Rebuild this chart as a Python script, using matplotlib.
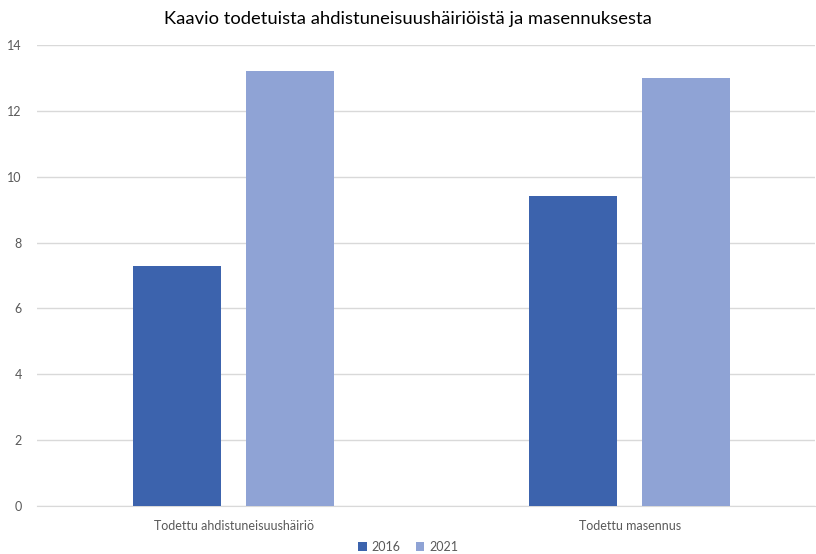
import matplotlib.pyplot as plt
import numpy as np

# data
categories = ["Todettu ahdistuneisuushäiriö", "Todettu masennus"]
years = ["2016", "2021"]
values_2016 = [7.3, 9.4]
values_2021 = [13.2, 13.0]
colors = ["#3c63ad", "#8fa3d5"]

plt.rcParams['font.family'] = ['Lato', 'DejaVu Sans']

fig = plt.figure(figsize=(8.16, 5.54), dpi=100)
ax = fig.add_axes([37 / 816, 1 - 506 / 554, 778 / 816, 461 / 554])

x = np.arange(len(categories))
width = 0.222
offset = 0.143
ax.bar(x - offset, values_2016, width, color=colors[0], label=years[0], zorder=3)
ax.bar(x + offset, values_2021, width, color=colors[1], label=years[1], zorder=3)

ax.set_xlim(-0.497, 1.468)
ax.set_ylim(0, 14)
ax.set_yticks(range(0, 15, 2))
ax.set_xticks(x)
ax.set_xticklabels(categories)

ax.grid(axis='y', color='#d9d9d9', linewidth=1, zorder=0)
for side in ['top', 'right', 'left']:
    ax.spines[side].set_visible(False)
ax.spines['bottom'].set_color('#d9d9d9')
ax.tick_params(axis='both', length=0, colors='#595959', labelsize=9)
ax.tick_params(axis='x', pad=10)
ax.tick_params(axis='y', pad=11)

fig.text(0.5, 1 - 19 / 554, "Kaavio todetuista ahdistuneisuushäiriöistä ja masennuksesta",
         ha='center', va='center', fontsize=13.2, color='#000000')

fig.legend(loc='center', bbox_to_anchor=(0.5, 1 - 547 / 554), ncol=2, frameon=False,
           fontsize=9, handlelength=0.7, handleheight=0.7, handletextpad=0.4,
           columnspacing=1.2, labelcolor='#595959')

fig.savefig("out.png", dpi=100)
